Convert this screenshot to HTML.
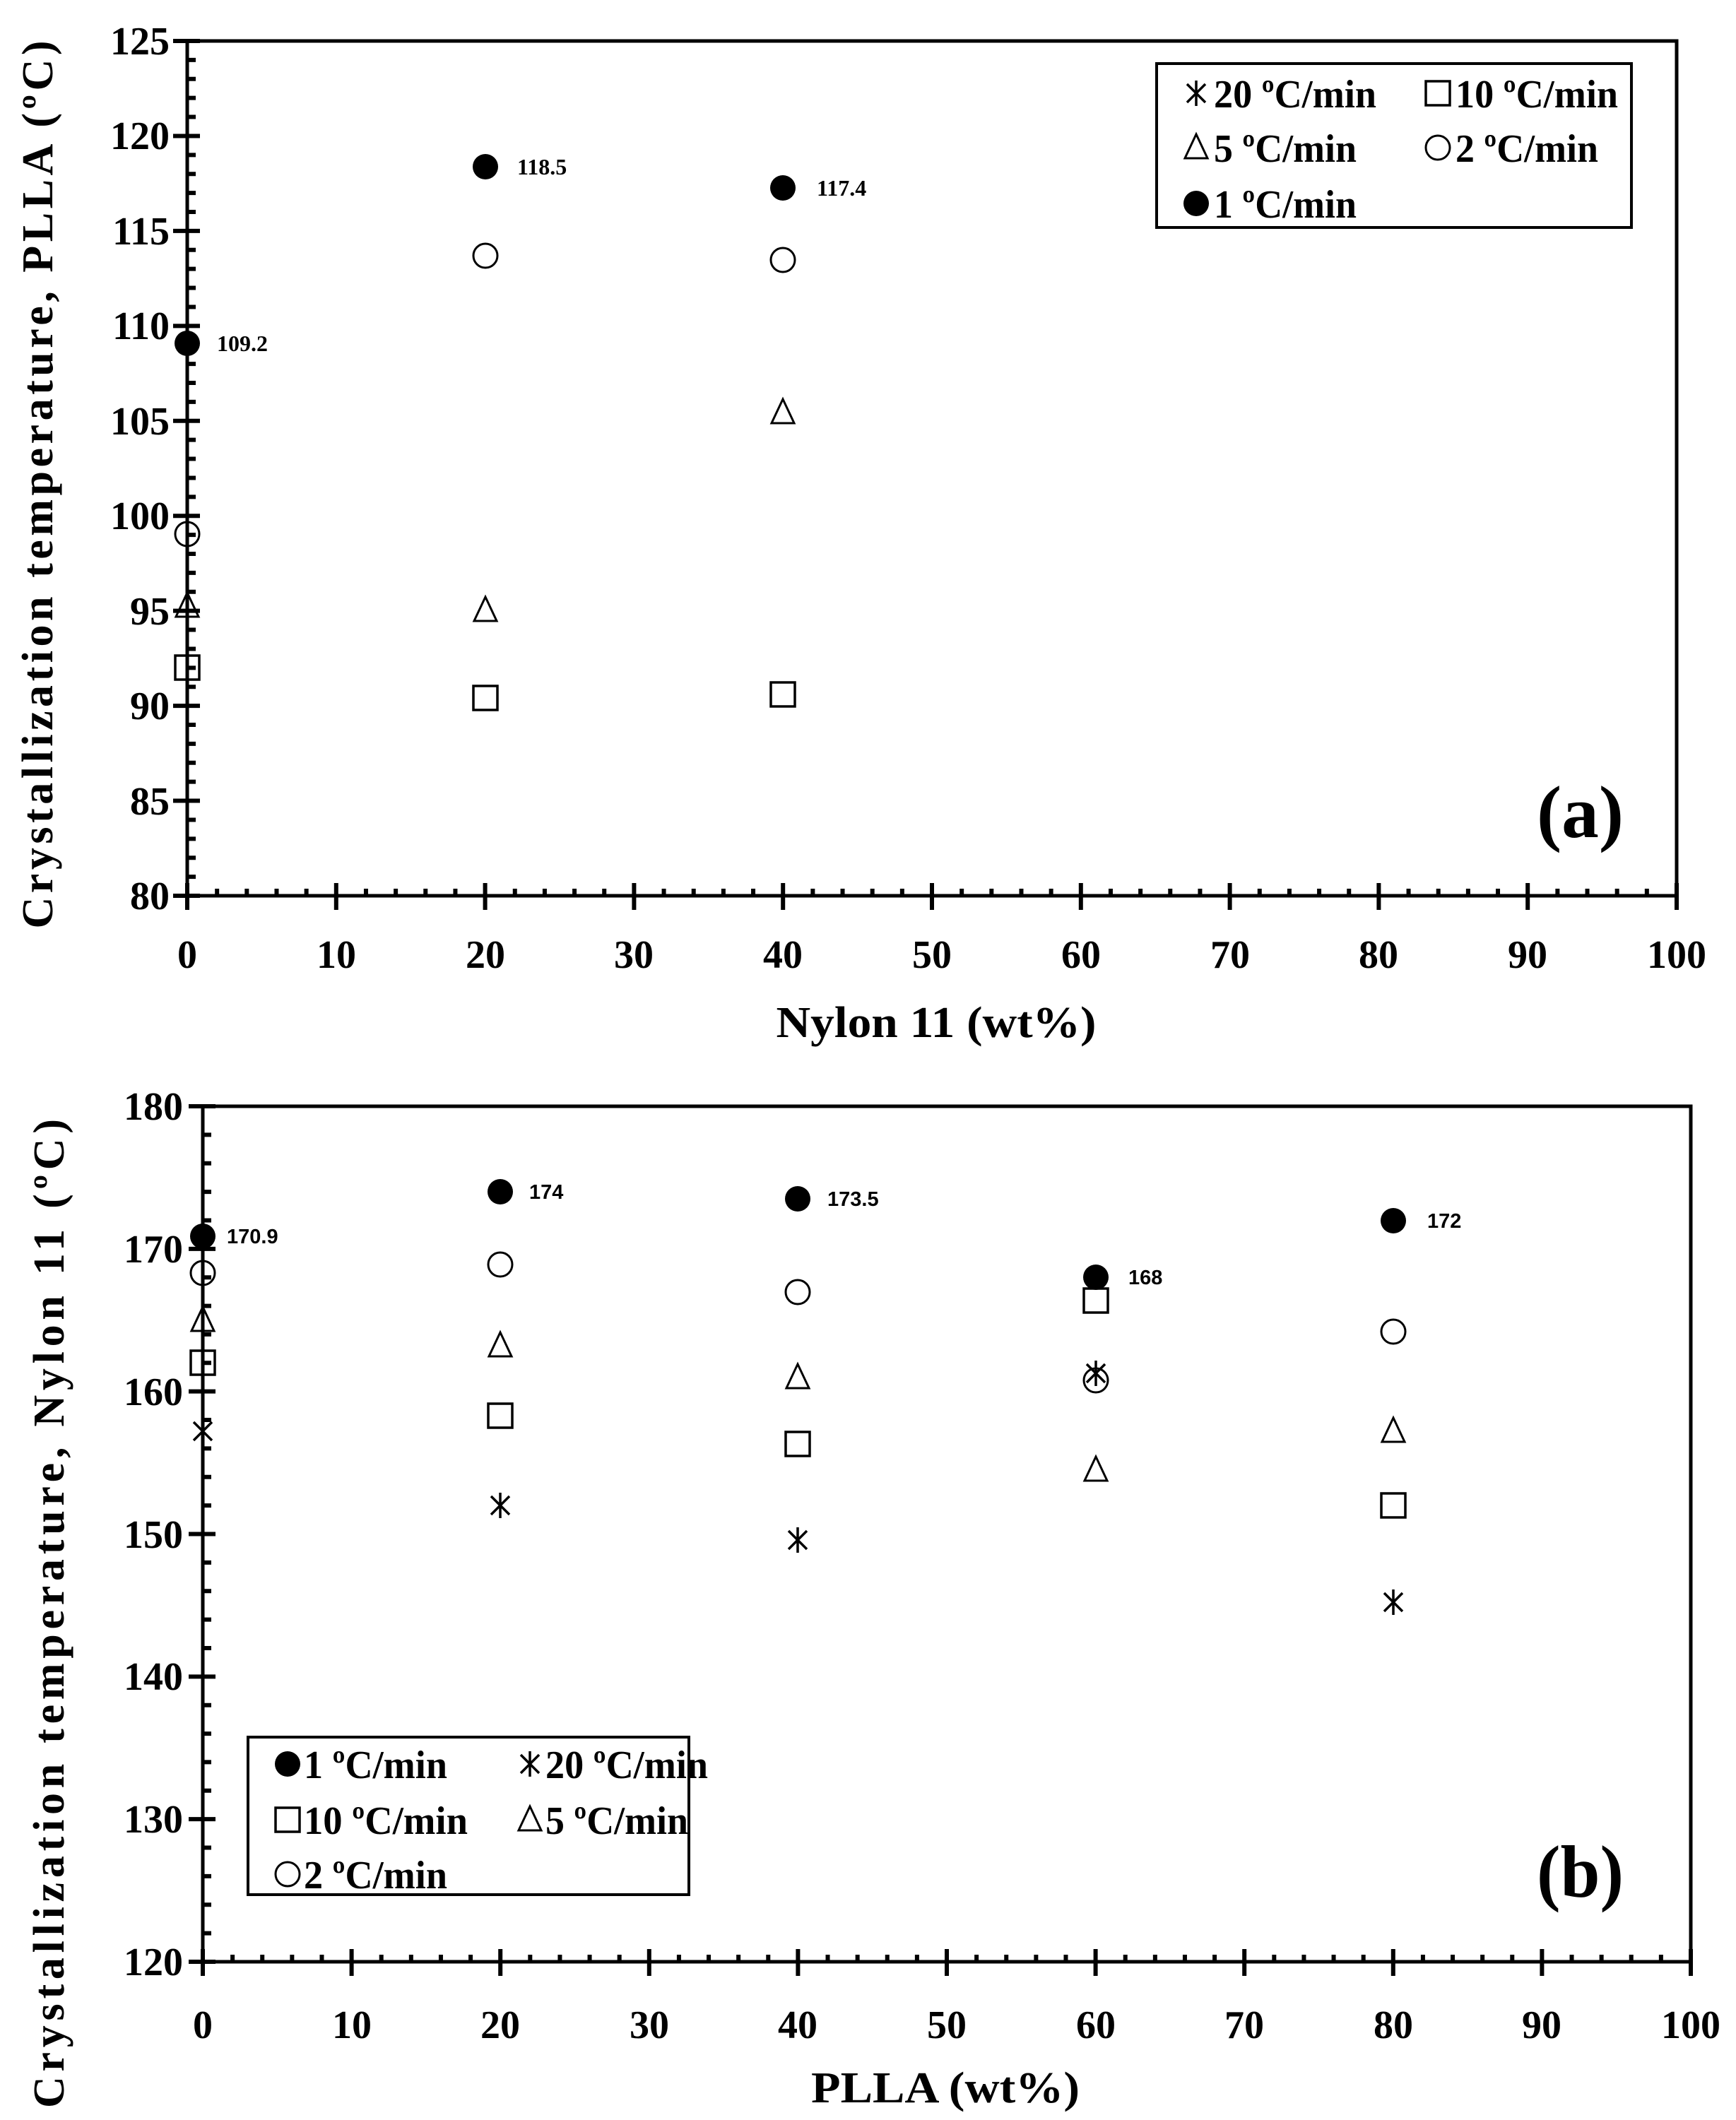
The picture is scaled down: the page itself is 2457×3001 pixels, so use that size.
<!DOCTYPE html>
<html><head><meta charset="utf-8"><style>
html,body{margin:0;padding:0;background:#fff}
svg{display:block}
text{font-family:"Liberation Serif",serif;font-weight:bold;fill:#000}
.s{font-family:"Liberation Sans",sans-serif}
</style></head><body>
<svg id="c" xmlns="http://www.w3.org/2000/svg" width="2457" height="3001" viewBox="0 0 2457 3001">
<defs>
<g id="fc"><circle r="18" fill="#000"/></g>
<g id="oc"><circle r="17" fill="none" stroke="#000" stroke-width="3"/></g>
<g id="sq"><rect x="-17" y="-17" width="34" height="34" fill="none" stroke="#000" stroke-width="3.5"/></g>
<g id="tr"><path d="M0,-19 L16,15 L-16,15 Z" fill="none" stroke="#000" stroke-width="3"/></g>
<g id="st"><path d="M0,-18 V18 M-13,-13 L13,13 M-13,13 L13,-13" stroke="#000" stroke-width="3.5" fill="none"/></g>
</defs>
<g id="axes"></g>

<!-- Chart A -->
<rect x="265" y="58" width="2108" height="1210" fill="none" stroke="#000" stroke-width="5"/>
<g font-size="56" text-anchor="end">
<text x="240" y="1287">80</text><text x="240" y="1153">85</text><text x="240" y="1018">90</text><text x="240" y="884">95</text>
<text x="240" y="749">100</text><text x="240" y="615">105</text><text x="240" y="480">110</text><text x="240" y="346">115</text>
<text x="240" y="211">120</text><text x="240" y="77">125</text>
</g>
<g font-size="56" text-anchor="middle">
<text x="265" y="1370">0</text><text x="476" y="1370">10</text><text x="687" y="1370">20</text><text x="897" y="1370">30</text>
<text x="1108" y="1370">40</text><text x="1319" y="1370">50</text><text x="1530" y="1370">60</text><text x="1741" y="1370">70</text>
<text x="1951" y="1370">80</text><text x="2162" y="1370">90</text><text x="2373" y="1370">100</text>
</g>
<text x="1325" y="1468" font-size="62" text-anchor="middle" textLength="453" lengthAdjust="spacingAndGlyphs">Nylon 11 (wt%)</text>
<text transform="translate(74,686) rotate(-90)" font-size="62" text-anchor="middle" textLength="1257" lengthAdjust="spacing">Crystallization temperature, PLLA (ºC)</text>
<text x="2175" y="1185" font-size="105" textLength="123" lengthAdjust="spacingAndGlyphs">(a)</text>

<rect x="1637" y="90" width="672" height="232" fill="none" stroke="#000" stroke-width="4"/>
<use href="#st" x="1693" y="132"/><text x="1718" y="152" font-size="56" textLength="230" lengthAdjust="spacingAndGlyphs">20 ºC/min</text>
<use href="#sq" x="2035" y="132"/><text x="2060" y="152" font-size="56" textLength="230" lengthAdjust="spacingAndGlyphs">10 ºC/min</text>
<use href="#tr" x="1693" y="209"/><text x="1718" y="229" font-size="56" textLength="202" lengthAdjust="spacingAndGlyphs">5 ºC/min</text>
<use href="#oc" x="2035" y="209"/><text x="2060" y="229" font-size="56" textLength="202" lengthAdjust="spacingAndGlyphs">2 ºC/min</text>
<use href="#fc" x="1693" y="288"/><text x="1718" y="308" font-size="56" textLength="202" lengthAdjust="spacingAndGlyphs">1 ºC/min</text>

<use href="#sq" x="265" y="945"/><use href="#sq" x="687" y="988"/><use href="#sq" x="1108" y="983"/>
<use href="#tr" x="265" y="858"/><use href="#tr" x="687" y="864"/><use href="#tr" x="1108" y="584"/>
<use href="#oc" x="265" y="756"/><use href="#oc" x="687" y="362"/><use href="#oc" x="1108" y="368"/>
<use href="#fc" x="265" y="486"/><use href="#fc" x="687" y="236"/><use href="#fc" x="1108" y="266"/>
<g font-size="32">
<text x="307" y="497">109.2</text><text x="732" y="247">118.5</text><text x="1156" y="277">117.4</text>
</g>

<!-- Chart B -->
<rect x="287" y="1566" width="2106" height="1211" fill="none" stroke="#000" stroke-width="5"/>
<g font-size="56" text-anchor="end">
<text x="259" y="2796">120</text><text x="259" y="2594">130</text><text x="259" y="2392">140</text><text x="259" y="2191">150</text>
<text x="259" y="1989">160</text><text x="259" y="1787">170</text><text x="259" y="1585">180</text>
</g>
<g font-size="56" text-anchor="middle">
<text x="287" y="2885">0</text><text x="498" y="2885">10</text><text x="708" y="2885">20</text><text x="919" y="2885">30</text>
<text x="1129" y="2885">40</text><text x="1340" y="2885">50</text><text x="1551" y="2885">60</text><text x="1761" y="2885">70</text>
<text x="1972" y="2885">80</text><text x="2182" y="2885">90</text><text x="2393" y="2885">100</text>
</g>
<text x="1338" y="2976" font-size="62" text-anchor="middle" textLength="380" lengthAdjust="spacingAndGlyphs">PLLA (wt%)</text>
<text transform="translate(90,2284) rotate(-90)" font-size="62" text-anchor="middle" textLength="1400" lengthAdjust="spacing">Crystallization temperature, Nylon 11 (ºC)</text>
<text x="2175" y="2685" font-size="105" textLength="123" lengthAdjust="spacingAndGlyphs">(b)</text>

<rect x="351" y="2459" width="624" height="223" fill="none" stroke="#000" stroke-width="4"/>
<use href="#fc" x="407" y="2497"/><text x="430" y="2517" font-size="56" textLength="203" lengthAdjust="spacingAndGlyphs">1 ºC/min</text>
<use href="#st" x="750" y="2497"/><text x="772" y="2517" font-size="56" textLength="230" lengthAdjust="spacingAndGlyphs">20 ºC/min</text>
<use href="#sq" x="407" y="2576"/><text x="430" y="2596" font-size="56" textLength="232" lengthAdjust="spacingAndGlyphs">10 ºC/min</text>
<use href="#tr" x="750" y="2576"/><text x="772" y="2596" font-size="56" textLength="202" lengthAdjust="spacingAndGlyphs">5 ºC/min</text>
<use href="#oc" x="407" y="2653"/><text x="430" y="2673" font-size="56" textLength="203" lengthAdjust="spacingAndGlyphs">2 ºC/min</text>

<use href="#st" x="287" y="2026"/><use href="#st" x="708" y="2131"/><use href="#st" x="1129" y="2180"/><use href="#st" x="1551" y="1944"/><use href="#st" x="1972" y="2268"/>
<use href="#sq" x="287" y="1929"/><use href="#sq" x="708" y="2004"/><use href="#sq" x="1129" y="2044"/><use href="#sq" x="1551" y="1841"/><use href="#sq" x="1972" y="2131"/>
<use href="#tr" x="287" y="1869"/><use href="#tr" x="708" y="1905"/><use href="#tr" x="1129" y="1950"/><use href="#tr" x="1551" y="2081"/><use href="#tr" x="1972" y="2026"/>
<use href="#oc" x="287" y="1802"/><use href="#oc" x="708" y="1790"/><use href="#oc" x="1129" y="1829"/><use href="#oc" x="1551" y="1954"/><use href="#oc" x="1972" y="1885"/>
<use href="#fc" x="287" y="1750"/><use href="#fc" x="708" y="1687"/><use href="#fc" x="1129" y="1697"/><use href="#fc" x="1551" y="1808"/><use href="#fc" x="1972" y="1728"/>
<g font-size="29" class="s">
<text class="s" x="321" y="1760">170.9</text><text class="s" x="749" y="1697">174</text><text class="s" x="1171" y="1707">173.5</text>
<text class="s" x="1597" y="1818">168</text><text class="s" x="2020" y="1738">172</text>
</g>
</svg>
<script>
(function(){
var g=document.getElementById('axes'),ns='http://www.w3.org/2000/svg',d='';
function L(x1,y1,x2,y2){d+='M'+x1+','+y1+'L'+x2+','+y2;}
function chart(x0,x100,yTop,yBot,nMaj,nMin){
 var w=x100-x0,h=yBot-yTop;
 for(var i=0;i<=50;i++){var x=x0+w*i/50; if(i%5==0)L(x,yBot-18,x,yBot+20); else L(x,yBot-10,x,yBot);}
 var tot=nMaj*nMin;
 for(var j=0;j<=tot;j++){var y=yBot-h*j/tot; if(j%nMin==0)L(x0-20,y,x0+18,y); else L(x0,y,x0+12,y);}
}
chart(265,2373,58,1268,9,5);
chart(287,2393,1566,2777,6,5);
var p=document.createElementNS(ns,'path');p.setAttribute('d',d);p.setAttribute('stroke','#000');p.setAttribute('stroke-width','6');
g.appendChild(p);
})();
</script>
</body></html>
